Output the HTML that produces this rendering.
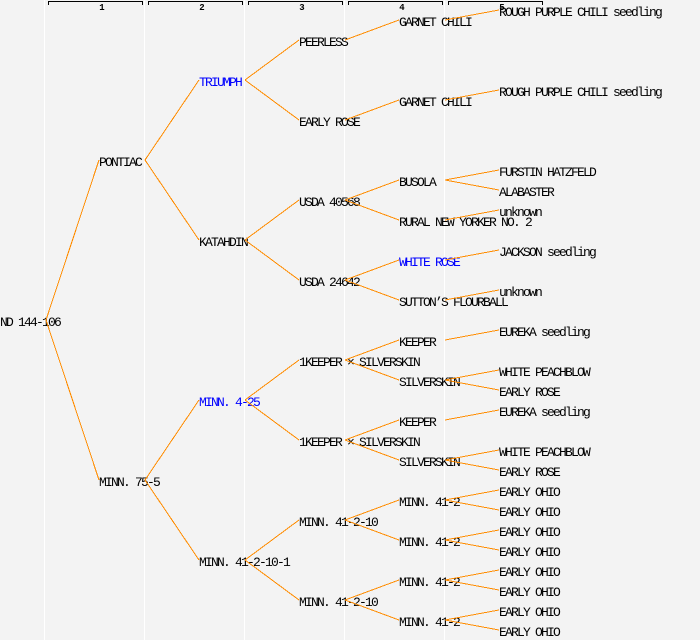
<!DOCTYPE html>
<html><head><meta charset="utf-8"><style>
html,body{margin:0;padding:0;background:#f3f3f3;}
svg{display:block;}
text{font-family:"Liberation Mono","DejaVu Sans Mono",monospace;font-size:13px;letter-spacing:-1.8px;fill:#000;}
text.b{fill:#0000ff;}
text.h{font-size:9px;letter-spacing:0;text-anchor:middle;font-weight:bold;}
line{stroke:#ff8c00;stroke-width:1;shape-rendering:crispEdges;}
</style></head><body>
<svg width="700" height="640" viewBox="0 0 700 640" xmlns="http://www.w3.org/2000/svg">
<rect x="0" y="0" width="700" height="640" fill="#f3f3f3"/>
<g fill="#ffffff">
<rect x="44" y="0" width="1" height="640"/>
<rect x="144" y="0" width="1" height="640"/>
<rect x="244" y="0" width="1" height="640"/>
<rect x="344" y="0" width="1" height="640"/>
<rect x="444" y="0" width="1" height="640"/>
</g>
<g fill="#000">
<rect x="48" y="1" width="95" height="1"/><rect x="48" y="1" width="1" height="4"/><rect x="142" y="1" width="1" height="4"/>
<rect x="148" y="1" width="95" height="1"/><rect x="148" y="1" width="1" height="4"/><rect x="242" y="1" width="1" height="4"/>
<rect x="248" y="1" width="95" height="1"/><rect x="248" y="1" width="1" height="4"/><rect x="342" y="1" width="1" height="4"/>
<rect x="348" y="1" width="95" height="1"/><rect x="348" y="1" width="1" height="4"/><rect x="442" y="1" width="1" height="4"/>
<rect x="448" y="1" width="95" height="1"/><rect x="448" y="1" width="1" height="4"/><rect x="542" y="1" width="1" height="4"/>
</g>
<text class="h" x="102" y="10">1</text>
<text class="h" x="202" y="10">2</text>
<text class="h" x="302" y="10">3</text>
<text class="h" x="402" y="10">4</text>
<text class="h" x="502" y="10">5</text>

<!-- root -->
<text x="0" y="326">ND 144-106</text>
<!-- gen1 -->
<text x="99" y="166">PONTIAC</text>
<text x="99" y="486">MINN. 75-5</text>
<!-- gen2 -->
<text class="b" x="199" y="86">TRIUMPH</text>
<text x="199" y="246">KATAHDIN</text>
<text class="b" x="199" y="406">MINN. 4-25</text>
<text x="199" y="566">MINN. 41-2-10-1</text>
<!-- gen3 -->
<text x="299" y="46">PEERLESS</text>
<text x="299" y="126">EARLY ROSE</text>
<text x="299" y="206">USDA 40568</text>
<text x="299" y="286">USDA 24642</text>
<text x="299" y="366">1KEEPER × SILVERSKIN</text>
<text x="299" y="446">1KEEPER × SILVERSKIN</text>
<text x="299" y="526">MINN. 41-2-10</text>
<text x="299" y="606">MINN. 41-2-10</text>
<!-- gen4 -->
<text x="399" y="26">GARNET CHILI</text>
<text x="399" y="106">GARNET CHILI</text>
<text x="399" y="186">BUSOLA</text>
<text x="399" y="226">RURAL NEW YORKER NO. 2</text>
<text class="b" x="399" y="266">WHITE ROSE</text>
<text x="399" y="306">SUTTON’S FLOURBALL</text>
<text x="399" y="346">KEEPER</text>
<text x="399" y="386">SILVERSKIN</text>
<text x="399" y="426">KEEPER</text>
<text x="399" y="466">SILVERSKIN</text>
<text x="399" y="506">MINN. 41-2</text>
<text x="399" y="546">MINN. 41-2</text>
<text x="399" y="586">MINN. 41-2</text>
<text x="399" y="626">MINN. 41-2</text>
<!-- gen5 -->
<text x="499" y="16">ROUGH PURPLE CHILI seedling</text>
<text x="499" y="96">ROUGH PURPLE CHILI seedling</text>
<text x="499" y="176">FURSTIN HATZFELD</text>
<text x="499" y="196">ALABASTER</text>
<text x="499" y="216">unknown</text>
<text x="499" y="256">JACKSON seedling</text>
<text x="499" y="296">unknown</text>
<text x="499" y="336">EUREKA seedling</text>
<text x="499" y="376">WHITE PEACHBLOW</text>
<text x="499" y="396">EARLY ROSE</text>
<text x="499" y="416">EUREKA seedling</text>
<text x="499" y="456">WHITE PEACHBLOW</text>
<text x="499" y="476">EARLY ROSE</text>
<text x="499" y="496">EARLY OHIO</text>
<text x="499" y="516">EARLY OHIO</text>
<text x="499" y="536">EARLY OHIO</text>
<text x="499" y="556">EARLY OHIO</text>
<text x="499" y="576">EARLY OHIO</text>
<text x="499" y="596">EARLY OHIO</text>
<text x="499" y="616">EARLY OHIO</text>
<text x="499" y="636">EARLY OHIO</text>

<g>
<!-- root -> gen1 -->
<line x1="46" y1="320" x2="99" y2="160"/>
<line x1="46" y1="320" x2="99" y2="480"/>
<!-- gen1 -> gen2 -->
<line x1="145" y1="160" x2="199" y2="80"/>
<line x1="145" y1="160" x2="199" y2="240"/>
<line x1="145" y1="480" x2="199" y2="400"/>
<line x1="145" y1="480" x2="199" y2="560"/>
<!-- gen2 -> gen3 -->
<line x1="245" y1="80" x2="299" y2="40"/>
<line x1="245" y1="80" x2="299" y2="120"/>
<line x1="245" y1="240" x2="299" y2="200"/>
<line x1="245" y1="240" x2="299" y2="280"/>
<line x1="245" y1="400" x2="299" y2="360"/>
<line x1="245" y1="400" x2="299" y2="440"/>
<line x1="245" y1="560" x2="299" y2="520"/>
<line x1="245" y1="560" x2="299" y2="600"/>
<!-- gen3 -> gen4 -->
<line x1="345" y1="40" x2="399" y2="20"/>
<line x1="345" y1="120" x2="399" y2="100"/>
<line x1="345" y1="200" x2="399" y2="180"/>
<line x1="345" y1="200" x2="399" y2="220"/>
<line x1="345" y1="280" x2="399" y2="260"/>
<line x1="345" y1="280" x2="399" y2="300"/>
<line x1="345" y1="360" x2="399" y2="340"/>
<line x1="345" y1="360" x2="399" y2="380"/>
<line x1="345" y1="440" x2="399" y2="420"/>
<line x1="345" y1="440" x2="399" y2="460"/>
<line x1="345" y1="520" x2="399" y2="500"/>
<line x1="345" y1="520" x2="399" y2="540"/>
<line x1="345" y1="600" x2="399" y2="580"/>
<line x1="345" y1="600" x2="399" y2="620"/>
<!-- gen4 -> gen5 -->
<line x1="445" y1="20" x2="499" y2="10"/>
<line x1="445" y1="100" x2="499" y2="90"/>
<line x1="445" y1="180" x2="499" y2="170"/>
<line x1="445" y1="180" x2="499" y2="190"/>
<line x1="445" y1="220" x2="499" y2="210"/>
<line x1="445" y1="260" x2="499" y2="250"/>
<line x1="445" y1="300" x2="499" y2="290"/>
<line x1="445" y1="340" x2="499" y2="330"/>
<line x1="445" y1="380" x2="499" y2="370"/>
<line x1="445" y1="380" x2="499" y2="390"/>
<line x1="445" y1="420" x2="499" y2="410"/>
<line x1="445" y1="460" x2="499" y2="450"/>
<line x1="445" y1="460" x2="499" y2="470"/>
<line x1="445" y1="500" x2="499" y2="490"/>
<line x1="445" y1="500" x2="499" y2="510"/>
<line x1="445" y1="540" x2="499" y2="530"/>
<line x1="445" y1="540" x2="499" y2="550"/>
<line x1="445" y1="580" x2="499" y2="570"/>
<line x1="445" y1="580" x2="499" y2="590"/>
<line x1="445" y1="620" x2="499" y2="610"/>
<line x1="445" y1="620" x2="499" y2="630"/>
</g>
</svg>
</body></html>
